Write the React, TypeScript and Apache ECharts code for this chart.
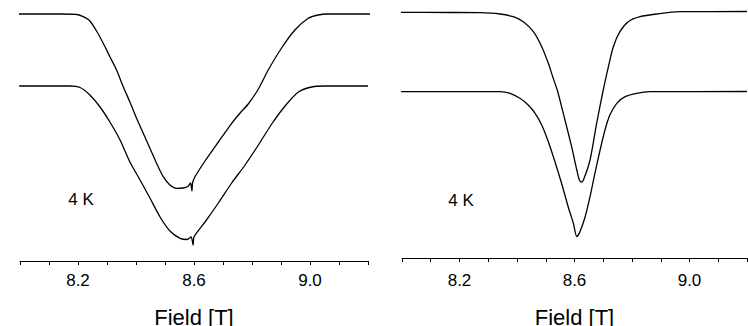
import React, { useEffect, useRef } from "react";
import * as echarts from "echarts";

// Field [T] vs signal (arbitrary units)
const leftUpper: [number, number][] = [
  [7.966, 247], [8.138, 247], [8.197, 246.5], [8.218, 244.3], [8.241, 240],
  [8.266, 229], [8.287, 217.7], [8.31, 204.3], [8.333, 191], [8.356, 174.3],
  [8.379, 159], [8.402, 142.7], [8.425, 127.7], [8.448, 112.7], [8.471, 97.7],
  [8.494, 84.3], [8.517, 76], [8.54, 72.7], [8.562, 73], [8.579, 74.5],
  [8.588, 78], [8.593, 70], [8.595, 78], [8.603, 84], [8.638, 100],
  [8.684, 119], [8.73, 137.7], [8.759, 148], [8.787, 157], [8.822, 172],
  [8.856, 191], [8.902, 213], [8.948, 231], [8.994, 242.7], [9.028, 246],
  [9.062, 247], [9.217, 247],
];

const leftLower: [number, number][] = [
  [7.997, 175], [8.172, 175], [8.207, 173.5], [8.241, 166], [8.276, 154],
  [8.31, 139], [8.345, 121], [8.379, 99], [8.414, 81], [8.448, 63],
  [8.483, 44], [8.517, 30], [8.552, 22.7], [8.576, 21.5], [8.59, 24],
  [8.597, 16], [8.6, 24], [8.638, 39], [8.684, 58], [8.73, 78],
  [8.776, 96], [8.822, 116], [8.868, 137], [8.914, 155], [8.96, 169],
  [9.006, 174], [9.052, 175], [9.2, 175],
];

const rightUpper: [number, number][] = [
  [7.979, 245.7], [8.167, 245.5], [8.271, 245.3], [8.341, 244], [8.387, 241.3],
  [8.422, 236.3], [8.457, 226.3], [8.486, 211.3], [8.509, 194.7], [8.526, 179.7],
  [8.54, 168], [8.561, 144.7], [8.59, 111.3], [8.608, 88], [8.617, 78],
  [8.624, 76], [8.631, 78], [8.654, 98], [8.677, 134.7], [8.7, 168],
  [8.718, 191.3], [8.735, 211.3], [8.758, 226.3], [8.787, 236.3], [8.828, 241.3],
  [8.886, 244], [8.967, 246.3], [9.2, 246.5],
];

const rightLower: [number, number][] = [
  [7.997, 166.3], [8.271, 166.3], [8.341, 166.3], [8.376, 164.7], [8.41, 159.7],
  [8.439, 153], [8.463, 144.7], [8.486, 133], [8.509, 116.3], [8.532, 96.3],
  [8.555, 74.7], [8.578, 51.3], [8.596, 34.7], [8.608, 21.3], [8.619, 26.3],
  [8.637, 41.3], [8.654, 61.3], [8.671, 84.7], [8.689, 108], [8.706, 128],
  [8.723, 143], [8.747, 154.7], [8.776, 161.3], [8.816, 164.7], [8.863, 166.3],
  [9.2, 166.5],
];

const labeledTicks = [8.2, 8.6, 9.0];
const tempLabel = "4 K";
const axisTitle = "Field [T]";

const FONT = "'Liberation Sans', Arial, Helvetica, sans-serif";

function makeXAxis(gridIndex: number, labelMargin: number, nameGap: number) {
  return {
    type: "value",
    gridIndex,
    min: 8.0,
    max: 9.2,
    interval: 0.1,
    axisLine: { show: true, onZero: false, lineStyle: { color: "#000", width: 1 } },
    axisTick: { show: true, inside: false, length: 4, lineStyle: { color: "#000", width: 1 } },
    axisLabel: {
      color: "#000",
      fontSize: 17,
      fontFamily: FONT,
      margin: labelMargin,
      formatter: (v: number) => {
        const k = Math.round(v * 10);
        return labeledTicks.some((t) => Math.round(t * 10) === k) ? (k / 10).toFixed(1) : "";
      },
    },
    splitLine: { show: false },
    name: axisTitle,
    nameLocation: "middle",
    nameGap,
    nameTextStyle: { color: "#000", fontSize: 22, fontFamily: FONT },
  };
}

function lineSeries(idx: number, data: [number, number][]) {
  return {
    type: "line",
    xAxisIndex: idx,
    yAxisIndex: idx,
    data,
    symbol: "none",
    showSymbol: false,
    smooth: 0.25,
    clip: false,
    lineStyle: { color: "#000", width: 1.3 },
  };
}

export default function App() {
  const ref = useRef<HTMLDivElement>(null);
  useEffect(() => {
    if (!ref.current) return;
    const chart = echarts.init(ref.current, null, { renderer: "svg" });
    chart.setOption({
      animation: false,
      backgroundColor: "#fff",
      grid: [
        { left: 20, top: 0, width: 348, height: 261, containLabel: false, outerBoundsMode: "none" },
        { left: 402, top: 0, width: 345, height: 258, containLabel: false, outerBoundsMode: "none" },
      ],
      xAxis: [makeXAxis(0, 11, 45), makeXAxis(1, 14, 48)],
      yAxis: [
        { type: "value", gridIndex: 0, min: 0, max: 261, show: false },
        { type: "value", gridIndex: 1, min: 0, max: 258, show: false },
      ],
      series: [
        lineSeries(0, leftUpper),
        lineSeries(0, leftLower),
        lineSeries(1, rightUpper),
        lineSeries(1, rightLower),
      ],
      graphic: [
        {
          type: "text",
          x: 81,
          y: 199,
          style: { text: tempLabel, fontSize: 17, fontFamily: FONT, fill: "#000", align: "center", verticalAlign: "middle" },
        },
        {
          type: "text",
          x: 461,
          y: 200,
          style: { text: tempLabel, fontSize: 17, fontFamily: FONT, fill: "#000", align: "center", verticalAlign: "middle" },
        },
      ],
    });
    return () => chart.dispose();
  }, []);
  return (
    <div
      ref={ref}
      style={{ position: "fixed", left: 0, top: 0, width: 748, height: 326, background: "#fff" }}
    />
  );
}
